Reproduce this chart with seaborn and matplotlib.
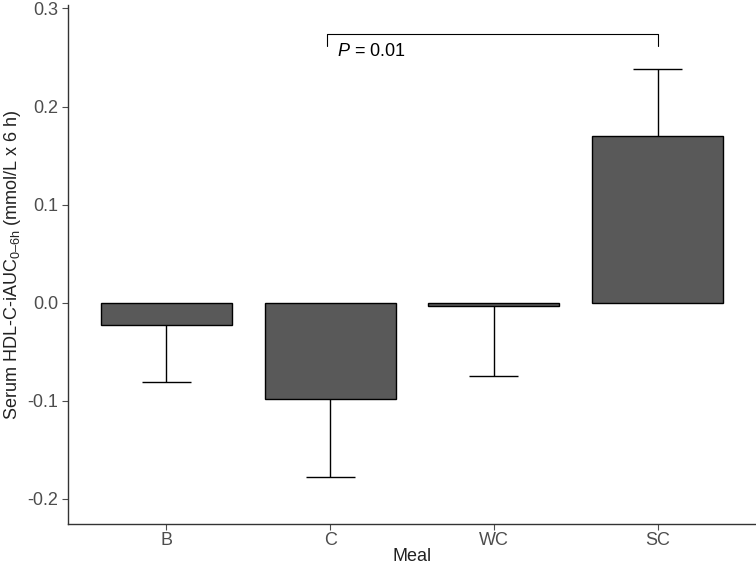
import matplotlib
matplotlib.use('Agg')
import matplotlib.pyplot as plt
import seaborn as sns
import pandas as pd

# data
meals = ['B', 'C', 'WC', 'SC']
mean_iauc = [-0.023, -0.098, -0.003, 0.170]
sem_iauc = [0.058, 0.080, 0.072, 0.068]
p_label = '$P$ = 0.01'

sns.set_style("white")
plt.rcParams['font.family'] = ['Liberation Sans', 'DejaVu Sans']
plt.rcParams['mathtext.fontset'] = 'custom'
plt.rcParams['mathtext.rm'] = 'Liberation Sans'
plt.rcParams['mathtext.it'] = 'Liberation Sans:italic'

df = pd.DataFrame({'Meal': meals, 'iAUC': mean_iauc, 'sem': sem_iauc})

fig = plt.figure(figsize=(7.56, 5.66), dpi=100)
ax = fig.add_axes([68 / 756, 42 / 566, (756 - 68) / 756, (524 - 5) / 566])

sns.barplot(data=df, x='Meal', y='iAUC', color='#595959', saturation=1,
            edgecolor='black', linewidth=1, width=0.8, errorbar=None, ax=ax,
            zorder=2)

# one-sided error bars, pointing away from zero
cap_half = 0.15
for i, (m, s) in enumerate(zip(mean_iauc, sem_iauc)):
    end = m + s if m >= 0 else m - s
    ax.vlines(i, m, end, color='black', linewidth=1, zorder=1)
    ax.hlines(end, i - cap_half, i + cap_half, color='black', linewidth=1,
              zorder=1)

# significance bracket between C and SC
ax.plot([0.98, 0.98, 3.0, 3.0], [0.262, 0.274, 0.274, 0.262],
        color='black', linewidth=0.8)
ax.text(1.04, 0.265, p_label, ha='left', va='top', fontsize=13, color='black')

ax.set_xlim(-0.6, 3.6)
ax.set_ylim(-0.2255, 0.3035)
ax.set_yticks([-0.2, -0.1, 0.0, 0.1, 0.2, 0.3])
ax.set_yticklabels(['-0.2', '-0.1', '0.0', '0.1', '0.2', '0.3'])

ax.set_xlabel('Meal', fontsize=13, color='#222222', labelpad=-1)
ax.set_ylabel('Serum HDL-C-iAUC$_{\\mathregular{0\u20136h}}$ (mmol/L x 6 h)',
              fontsize=13, color='#222222', labelpad=3)

sns.despine(ax=ax)
for side in ['left', 'bottom']:
    ax.spines[side].set_color('#333333')
    ax.spines[side].set_linewidth(1)
ax.tick_params(axis='both', which='major', labelsize=13, colors='#4d4d4d',
               length=4, width=0.8, direction='out', left=True, bottom=True,
               pad=3)
ax.tick_params(axis='x', pad=2)
ax.grid(False)

plt.savefig('out.png', dpi=100, facecolor='white')
plt.close()
